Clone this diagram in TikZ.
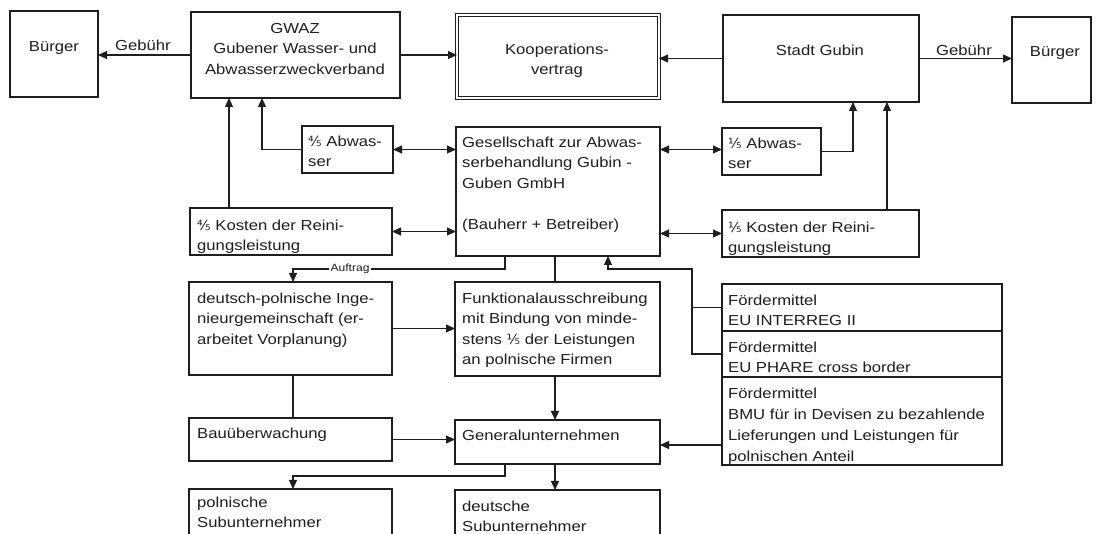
\documentclass[tikz,border=0pt]{standalone}
\usepackage{fontspec}
\setmainfont{Liberation Sans}[FakeStretch=1.15]
\newfontfamily\frfont{DejaVu Sans}
\usetikzlibrary{arrows.meta}
\definecolor{ink}{RGB}{30,30,30}
\newcommand\fs{\fontsize{14.5}{20.5}\selectfont}
\newcommand\fsm{\fontsize{10.5}{12}\selectfont}
\newcommand\myfr[1]{{\frfont\fontsize{14}{14}\selectfont #1}}
\newcommand\mybox[6][]{\node[box,#1,anchor=north west,minimum width={#5pt-#3pt},minimum height={#6pt-#4pt}] (#2) at (#3,#4) {};}
\begin{document}
\begin{tikzpicture}[x=1pt,y=-1pt,
  box/.style={draw=ink,line width=1.8pt,inner sep=0pt,outer sep=0pt,rectangle},
  txt/.style={inner sep=0pt,anchor=north west,align=left,font=\fs,text=ink},
  ctxt/.style={inner sep=0pt,align=center,font=\fs,text=ink},
  lbl/.style={inner sep=0pt,font=\fs,text=ink},
  conn/.style={draw=ink,line width=1.1pt},
  arr/.style={conn,-{Triangle[length=9pt,width=8pt]}},
  darr/.style={conn,{Triangle[length=9pt,width=8pt]}-{Triangle[length=9pt,width=8pt]}}]
\useasboundingbox (0,0) rectangle (1096,534);
\fill[white] (0,0) rectangle (1096,534);

% boxes
\mybox{bL}{10}{11}{98}{97}
\mybox{gwaz}{191}{12}{400}{98}
\mybox[double,double distance=2.2pt,line width=1.3pt]{koop}{457}{15}{659}{98}
\mybox{gubin}{723}{15}{919}{102}
\mybox{bR}{1012}{17}{1091}{103}
\mybox{abwL}{302}{126}{393}{173}
\mybox{kostL}{190}{208}{392}{255}
\mybox{ges}{456}{127}{660}{256}
\mybox{abwR}{722}{128}{821}{175}
\mybox{kostR}{722}{210}{919}{257}
\mybox{dp}{189}{282}{392}{375}
\mybox{funk}{455}{282}{660}{376}
\mybox{f1}{722}{284}{1002}{331}
\mybox{f2}{722}{331}{1002}{377}
\mybox{f3}{722}{377}{1002}{465}
\mybox{bau}{189}{418}{392}{461}
\mybox{gen}{455}{420}{660}{464}
\mybox{pol}{189}{489}{392}{545}
\mybox{deu}{455}{490}{660}{545}

% centred texts
\node[lbl,anchor=base] (bL-t) at (54,52) {Bürger};
\node[ctxt,anchor=north] (gwaz-t) at (295,18.6) {\strut GWAZ\\Gubener Wasser- und\\Abwasserzweckverband};
\node[ctxt,anchor=north] (koop-t) at (557,39.6) {\strut Kooperations-\\vertrag};
\node[lbl,anchor=base] (gubin-t) at (820,56) {Stadt Gubin};
\node[lbl,anchor=base] (bR-t) at (1055,57) {Bürger};

% left-aligned texts
\node[txt] (abwL-t) at ([shift={(6pt,-5.7pt)}]abwL.north west) {\strut\myfr{⅘} Abwas-\\ser};
\node[txt] (kostL-t) at ([shift={(7pt,-7.6pt)}]kostL.north west) {\strut\myfr{⅘} Kosten der Reini-\\gungsleistung};
\node[txt] (ges-t) at ([shift={(6pt,-5.7pt)}]ges.north west) {\strut Gesellschaft zur Abwas-\\serbehandlung Gubin -\\Guben GmbH\\[20.5pt](Bauherr + Betreiber)};
\node[txt] (abwR-t) at ([shift={(6pt,-5.7pt)}]abwR.north west) {\strut\myfr{⅕} Abwas-\\ser};
\node[txt] (kostR-t) at ([shift={(6pt,-7.6pt)}]kostR.north west) {\strut\myfr{⅕} Kosten der Reini-\\gungsleistung};
\node[txt] (dp-t) at ([shift={(8pt,-6.6pt)}]dp.north west) {\strut deutsch-polnische Inge-\\nieurgemeinschaft (er-\\arbeitet Vorplanung)};
\node[txt] (funk-t) at ([shift={(7pt,-6.6pt)}]funk.north west) {\strut Funktionalausschreibung\\mit Bindung von minde-\\stens \myfr{⅕} der Leistungen\\an polnische Firmen};
\node[txt] (f1-t) at ([shift={(6pt,-6.6pt)}]f1.north west) {\strut Fördermittel\\EU INTERREG II};
\node[txt] (f2-t) at ([shift={(6pt,-6.6pt)}]f2.north west) {\strut Fördermittel\\EU PHARE cross border};
\node[txt,font=\fontsize{14.5}{21}\selectfont] (f3-t) at ([shift={(6pt,-6.6pt)}]f3.north west) {\strut Fördermittel\\BMU für in Devisen zu bezahlende\\Lieferungen und Leistungen für\\polnischen Anteil};
\node[txt] (bau-t) at ([shift={(8pt,-5.7pt)}]bau.north west) {\strut Bauüberwachung};
\node[txt] (gen-t) at ([shift={(7pt,-5.7pt)}]gen.north west) {\strut Generalunternehmen};
\node[txt] (pol-t) at ([shift={(8pt,-3.7pt)}]pol.north west) {\strut polnische\\Subunternehmer};
\node[txt] (deu-t) at ([shift={(7pt,-6.6pt)}]deu.north west) {\strut deutsche\\Subunternehmer};

% helper coordinates for bus lines
\coordinate (xa) at (229,0);
\coordinate (xb) at (262,0);
\coordinate (xc) at (853,0);
\coordinate (xd) at (887,0);
\coordinate (xe) at (505,0);
\coordinate (xf) at (555,0);
\coordinate (xg) at (608,0);
\coordinate (xh) at (692,0);
\coordinate (xi) at (293,0);
\coordinate (ya) at (0,269);
\coordinate (yb) at (0,476);

% top row connectors
\draw[arr] (gwaz.west) -- (gwaz.west -| bL.east);
\node[lbl,anchor=base] (geb1) at (143,51) {Gebühr};
\draw[arr] (gwaz.east) -- (gwaz.east -| koop.west);
\draw[arr] (gubin.west) -- (gubin.west -| koop.east);
\draw[arr] (gubin.east) -- (gubin.east -| bR.west);
\node[lbl,anchor=base] (geb2) at (964,56) {Gebühr};

% shares
\draw[arr] (kostL.north -| xa) -- (gwaz.south -| xa);
\draw[arr] (abwL.west) -| (gwaz.south -| xb);
\draw[darr] (abwL.east) -- (abwL.east -| ges.west);
\draw[darr] (kostL.east) -- (kostL.east -| ges.west);
\draw[darr] ([yshift=2pt]abwR.west) -- ([yshift=2pt]ges.east |- abwR.west);
\draw[darr] (kostR.west) -- (kostR.west -| ges.east);
\draw[arr] (abwR.east) -| (gubin.south -| xc);
\draw[arr] (kostR.north -| xd) -- (gubin.south -| xd);

% Auftrag
\draw[arr] (ges.south -| xe) -- (xe |- ya) -| (dp.north -| xi);
\node[lbl,font=\fsm,fill=white,inner xsep=2pt,inner ysep=1pt] (auf) at (350,269) {Auftrag};
\draw[conn] (ges.south -| xf) -- (funk.north -| xf);

% Foerdermittel
\draw[arr] (f1.west) -| (xh |- ya) -| (ges.south -| xg);
\draw[conn] (f2.west) -| (xh |- f1.west);

% lower part
\draw[arr] (dp.east) -- (dp.east -| funk.west);
\draw[conn] (dp.south -| xi) -- (bau.north -| xi);
\draw[arr] (bau.east) -- (bau.east -| gen.west);
\draw[arr] (funk.south -| xf) -- (gen.north -| xf);
\draw[arr] ([yshift=-3pt]f3.west |- gen.east) -- ([yshift=-3pt]gen.east);
\draw[arr] (gen.south -| xe) -- (xe |- yb) -| (pol.north -| xi);
\draw[arr] (gen.south -| xf) -- (deu.north -| xf);
\end{tikzpicture}
\end{document}
